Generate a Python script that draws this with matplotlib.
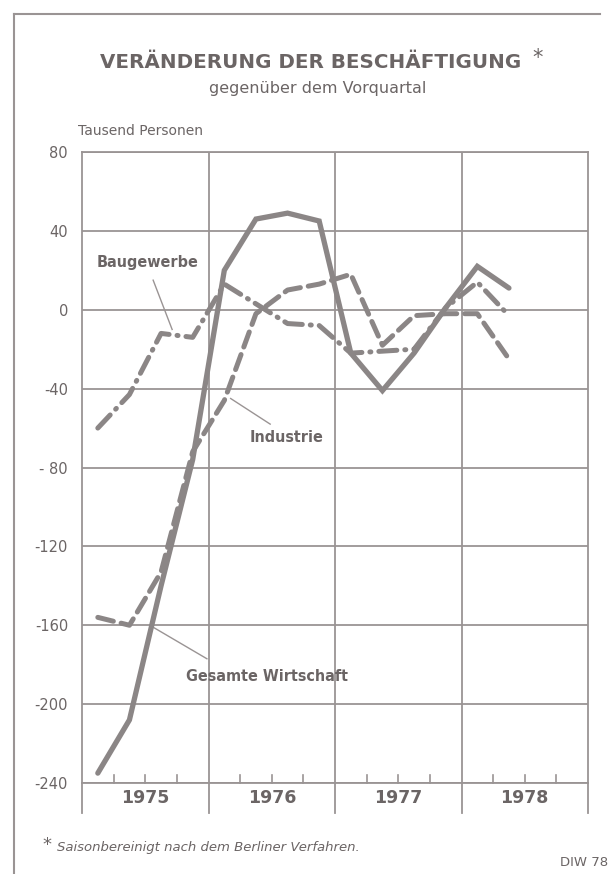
import matplotlib
matplotlib.use("Agg")
import matplotlib.pyplot as plt
from matplotlib.lines import Line2D

# ---- data (thousand persons, change vs previous quarter) ----
quarters = ["1975Q1", "1975Q2", "1975Q3", "1975Q4",
            "1976Q1", "1976Q2", "1976Q3", "1976Q4",
            "1977Q1", "1977Q2", "1977Q3", "1977Q4",
            "1978Q1", "1978Q2"]
gesamte = [-235, -208, -140, -76, 20, 46, 49, 45, -22, -41, -22, 1, 22, 11]
industrie = [-156, -160, -133, -72, -46, -2, 10, 13, 18, -18, -3, -2, -2, -25]
baugewerbe = [-60, -43, -12, -14, 13, 3, -7, -8, -22, -21, -20, 1, 14, -3]
years = ["1975", "1976", "1977", "1978"]
yticks = [80, 40, 0, -40, -80, -120, -160, -200, -240]
ytick_labels = ["80", "40", "0", "-40", "- 80", "-120", "-160", "-200", "-240"]

LINE = "#8b8686"
GRID = "#9a9494"
TEXT = "#6b6565"

fig = plt.figure(figsize=(6.16, 8.74), dpi=100)
fig.patch.set_facecolor("white")
ax = fig.add_axes([82/616, 1-783/874, (588-82)/616, (783-152)/874])

xs = [i + 0.5 for i in range(len(quarters))]

ax.plot(xs, gesamte, color=LINE, lw=3.8, solid_capstyle="round",
        solid_joinstyle="miter", zorder=3)
ax.plot(xs, industrie, color=LINE, lw=3.6, dashes=(3.2, 1.6),
        dash_capstyle="round", zorder=3)
ax.plot(xs, baugewerbe, color=LINE, lw=3.6, dashes=(3.6, 1.6, 0.2, 1.6),
        dash_capstyle="round", zorder=3)

ax.set_xlim(0, 16)
ax.set_ylim(-240, 80)

# grid
for y in yticks:
    ax.axhline(y, color=GRID, lw=1.3, zorder=1)
for xb in [4, 8, 12]:
    ax.axvline(xb, color=GRID, lw=1.3, zorder=1)
for s in ["left", "right", "top", "bottom"]:
    ax.spines[s].set_color(GRID)
    ax.spines[s].set_linewidth(1.3)

ax.set_xticks([])
ax.set_yticks(yticks)
ax.set_yticklabels(ytick_labels, color=TEXT, fontsize=10.5)
ax.tick_params(axis="y", length=0, pad=10)

# quarter ticks (pointing up from the bottom axis)
for q in range(16):
    if q % 4 != 0:
        ax.plot([q, q], [-240, -236], color=GRID, lw=1.2, zorder=1, clip_on=False)
# year boundaries extending below
for xb in [0, 4, 8, 12, 16]:
    ax.add_line(Line2D([xb, xb], [-240, -255], color=GRID, lw=1.3, clip_on=False))
for i, yr in enumerate(years):
    ax.text(i * 4 + 2, -247.5, yr, ha="center", va="center", fontsize=12.5,
            fontweight="bold", color=TEXT)

# series labels
cond = dict(family="DejaVu Sans", fontstretch="condensed", fontweight="bold",
            color=TEXT, fontsize=11.5)
ax.text(2.06, 24, "Baugewerbe", ha="center", va="center", **cond)
ax.plot([2.25, 2.85], [15, -10], color=GRID, lw=1.0, zorder=2)
ax.text(6.48, -65, "Industrie", ha="center", va="center", **cond)
ax.plot([5.95, 4.7], [-58, -45], color=GRID, lw=1.0, zorder=2)
ax.text(5.85, -186, "Gesamte Wirtschaft", ha="center", va="center", **cond)
ax.plot([3.95, 2.25], [-177, -161], color=GRID, lw=1.0, zorder=2)

# titles
fig.text(311/616, 1-63/874, "VERÄNDERUNG DER BESCHÄFTIGUNG", ha="center", va="center",
         fontsize=14.3, fontweight="bold", color=TEXT)
fig.text(538/616, 1-58/874, "*", ha="center", va="center", fontsize=15, color=TEXT)
fig.text(318/616, 1-89/874, "gegenüber dem Vorquartal", ha="center", va="center",
         fontsize=11.5, color=TEXT)
fig.text(78/616, 1-131/874, "Tausend Personen", ha="left", va="center",
         fontsize=10, color=TEXT)

# footnote
fig.text(42/616, 1-845/874, "*", ha="left", va="center", fontsize=13, color=TEXT)
fig.text(57/616, 1-847/874, "Saisonbereinigt nach dem Berliner Verfahren.", ha="left",
         va="center", fontsize=9.5, style="italic", color=TEXT)
fig.text(608/616, 1-862/874, "DIW 78", ha="right", va="center", fontsize=9.5, color=TEXT)

# frame lines (left and top)
fig.add_artist(Line2D([14/616, 14/616], [0, 1-14/874], transform=fig.transFigure,
                      color=GRID, lw=1.5))
fig.add_artist(Line2D([14/616, 600/616], [1-14/874, 1-14/874], transform=fig.transFigure,
                      color=GRID, lw=1.5))

fig.savefig("out.png", dpi=100, facecolor="white")
